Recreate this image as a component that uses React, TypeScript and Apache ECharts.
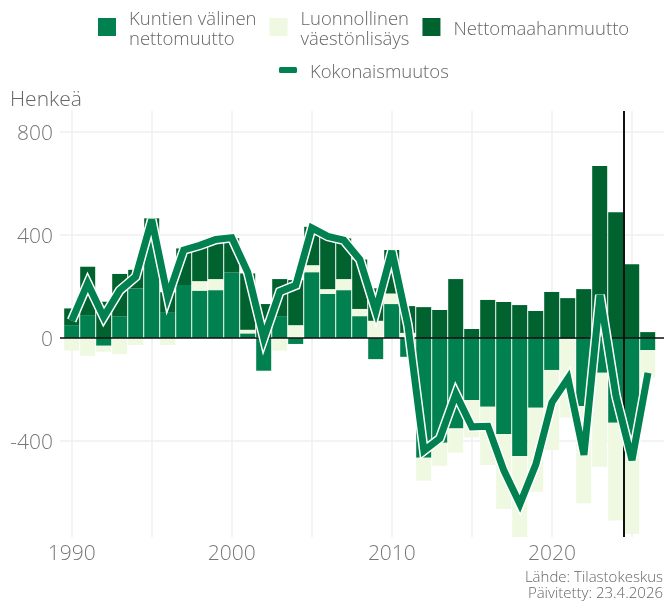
import React, { useEffect, useRef } from 'react';
import * as echarts from 'echarts';

const years = [1990, 1991, 1992, 1993, 1994, 1995, 1996, 1997, 1998, 1999, 2000, 2001, 2002, 2003, 2004, 2005, 2006, 2007, 2008, 2009, 2010, 2011, 2012, 2013, 2014, 2015, 2016, 2017, 2018, 2019, 2020, 2021, 2022, 2023, 2024, 2025, 2026];
const kuntien = [50, 89, -30, 83, 193, 400, 98, 206, 184, 186, 254, 18, -127, 85, -23, 256, 171, 186, 85, -82, 132, -73, -465, -407, -351, -241, -267, -373, -458, -271, -124, -3, -264, -135, -329, -380, -47];
const luonnollinen = [-49, -69, -23, -62, -27, 3, -27, 0, 37, 43, 0, 14, 3, -49, 50, 27, 19, 43, 28, 67, 41, 20, -89, -89, -94, -145, -226, -291, -315, -326, -311, -306, -378, -365, -380, -381, -107];
const nettomaahanmuutto = [65, 188, 141, 166, 72, 62, 80, 142, 149, 152, 134, 219, 129, 144, 175, 149, 210, 158, 192, 126, 169, 104, 120, 109, 229, 35, 148, 140, 128, 105, 179, 155, 190, 668, 489, 287, 23];
const kokonaismuutos = [68, 212, 82, 185, 238, 460, 160, 342, 360, 383, 390, 255, 0, 180, 205, 428, 395, 380, 305, 105, 338, 50, -438, -390, -217, -345, -343, -515, -645, -490, -250, -157, -454, 167, -225, -474, -135];

const xGridTicks = [1990, 1995, 2000, 2005, 2010, 2015, 2020, 2025];
const xLabelTicks = [1990, 2000, 2010, 2020];
const yTicks = [-400, 0, 400, 800];
const forecastStart = 2024.5;

const NAME_K = 'Kuntien välinen nettomuutto';
const NAME_L = 'Luonnollinen väestönlisäys';
const NAME_N = 'Nettomaahanmuutto';
const NAME_T = 'Kokonaismuutos';

const C_MED = '#00814f';
const C_LIGHT = '#eff8e1';
const C_DARK = '#00622f';

export default function App() {
  const ref = useRef<HTMLDivElement>(null);
  useEffect(() => {
    const chart = echarts.init(ref.current!, undefined, { renderer: 'svg' });
    const pair = (arr: number[]) => years.map((y, i) => [y, arr[i]]);
    const font = "'Open Sans', 'Noto Sans', sans-serif";
    const Y_MIN = -773;
    const Y_MAX = 882;
    const legendText = {
      color: '#666',
      fontSize: 18.5,
      fontFamily: font,
      fontWeight: 300 as any,
      lineHeight: 20,
      padding: [0, 0, 0, 8],
    };
    const axisText = {
      color: '#777',
      fontSize: 21,
      fontFamily: font,
      fontWeight: 300 as any,
    };
    const sourceStyle = {
      fill: '#666',
      fontSize: 15,
      lineHeight: 15,
      align: 'right',
      fontFamily: font,
      fontWeight: 300,
    };
    chart.setOption({
      animation: false,
      grid: [
        { left: 63.7, right: 8.3, top: 111, bottom: 64, containLabel: false },
        { left: 60, right: 0, top: 111, bottom: 64, containLabel: false },
      ],
      xAxis: [
        {
          type: 'category',
          gridIndex: 0,
          data: years.map(String),
          boundaryGap: true,
          show: false,
        },
        {
          type: 'value',
          gridIndex: 1,
          min: 1989.27,
          max: 2027,
          axisLine: { show: false },
          axisTick: { show: false, customValues: xGridTicks },
          splitLine: { show: true, lineStyle: { color: '#efefef', width: 1.5 } },
          axisLabel: {
            ...axisText,
            customValues: xLabelTicks,
            margin: 4,
            formatter: (v: number) => String(v),
          },
        },
      ],
      yAxis: [
        { type: 'value', gridIndex: 0, min: Y_MIN, max: Y_MAX, show: false, splitLine: { show: false } },
        {
          type: 'value',
          gridIndex: 1,
          min: Y_MIN,
          max: Y_MAX,
          axisLine: { show: false },
          axisTick: { show: false, customValues: yTicks },
          splitLine: { show: true, lineStyle: { color: '#efefef', width: 1.5 } },
          axisLabel: {
            ...axisText,
            customValues: yTicks,
            margin: 7,
            formatter: (v: number) => String(v),
          },
        },
      ],
      legend: [
        {
          left: 98,
          top: 7,
          padding: 0,
          itemGap: 13,
          itemWidth: 18,
          itemHeight: 18,
          icon: 'rect',
          selectedMode: false,
          data: [NAME_K, NAME_L, NAME_N],
          textStyle: legendText,
          formatter: (name: string) =>
            name === NAME_K ? 'Kuntien välinen\nnettomuutto' : name === NAME_L ? 'Luonnollinen\nväestönlisäys' : name,
        },
        {
          left: 279,
          top: 60,
          padding: 0,
          itemWidth: 18,
          itemHeight: 6,
          selectedMode: false,
          data: [{ name: NAME_T, icon: 'roundRect', itemStyle: { color: C_MED } }],
          textStyle: legendText,
        },
      ],
      graphic: [
        {
          type: 'text',
          left: 10,
          top: 87,
          style: { text: 'Henkeä', fill: '#666', fontSize: 21, fontFamily: font, fontWeight: 300 },
        },
        {
          type: 'text',
          right: 1,
          top: 568,
          style: { ...sourceStyle, text: 'Lähde: Tilastokeskus' },
        },
        {
          type: 'text',
          right: 1,
          top: 584,
          style: { ...sourceStyle, text: 'Päivitetty: 23.4.2026' },
        },
      ],
      series: [
        {
          name: NAME_K,
          type: 'bar',
          xAxisIndex: 0,
          yAxisIndex: 0,
          stack: 'total',
          barWidth: 15,
          z: 2,
          itemStyle: { color: C_MED },
          data: kuntien,
        },
        {
          name: NAME_L,
          type: 'bar',
          xAxisIndex: 0,
          yAxisIndex: 0,
          stack: 'total',
          barWidth: 15,
          z: 2,
          itemStyle: { color: C_LIGHT },
          data: luonnollinen,
        },
        {
          name: NAME_N,
          type: 'bar',
          xAxisIndex: 0,
          yAxisIndex: 0,
          stack: 'total',
          barWidth: 15,
          z: 2,
          itemStyle: { color: C_DARK },
          data: nettomaahanmuutto,
        },
        {
          name: 'Kokonaismuutos-reuna',
          type: 'line',
          xAxisIndex: 1,
          yAxisIndex: 1,
          z: 4,
          symbol: 'none',
          silent: true,
          lineStyle: { color: '#ffffff', width: 10, join: 'miter', miterLimit: 10 },
          data: pair(kokonaismuutos),
        },
        {
          name: NAME_T,
          type: 'line',
          xAxisIndex: 1,
          yAxisIndex: 1,
          z: 5,
          symbol: 'none',
          color: C_MED,
          lineStyle: { color: C_MED, width: 7, join: 'miter', miterLimit: 10 },
          data: pair(kokonaismuutos),
          markLine: {
            silent: true,
            symbol: 'none',
            z: 3,
            label: { show: false },
            emphasis: { disabled: true },
            data: [
              { yAxis: 0, lineStyle: { color: '#111', width: 1.5, type: 'solid' } },
              { xAxis: forecastStart, lineStyle: { color: '#111', width: 2, type: 'solid' } },
            ],
          },
        },
      ],
    });
    return () => chart.dispose();
  }, []);
  return <div ref={ref} style={{ position: 'fixed', left: 0, top: 0, width: 664, height: 601 }} />;
}
